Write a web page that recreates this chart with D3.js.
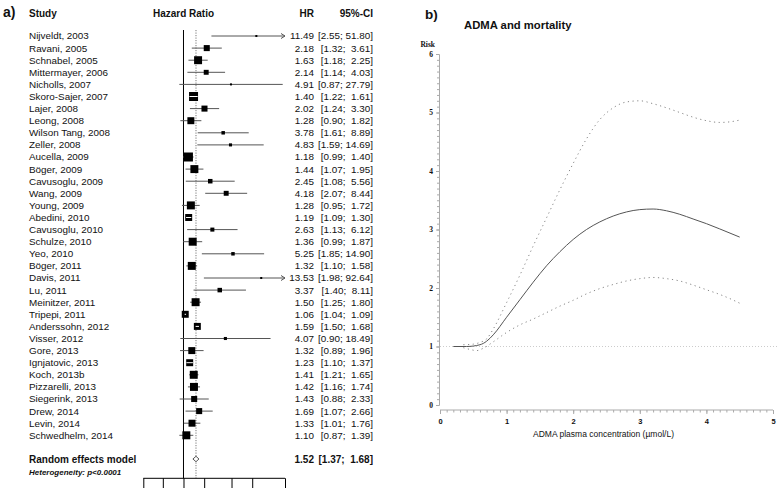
<!DOCTYPE html>
<html><head><meta charset="utf-8">
<script src="https://cdn.jsdelivr.net/npm/d3@7"></script>
<style>
body{margin:0;background:#fff}
svg text{font-family:"Liberation Sans",Arial,Helvetica,sans-serif;fill:#111}
</style>
</head><body>
<svg id="chart" width="780" height="488"></svg>
<script>
// ---------- data: panel a (forest plot) ----------
const studies = ["Nijveldt, 2003","Ravani, 2005","Schnabel, 2005","Mittermayer, 2006","Nicholls, 2007","Skoro-Sajer, 2007","Lajer, 2008","Leong, 2008","Wilson Tang, 2008","Zeller, 2008","Aucella, 2009","Böger, 2009","Cavusoglu, 2009","Wang, 2009","Young, 2009","Abedini, 2010","Cavusoglu, 2010","Schulze, 2010","Yeo, 2010","Böger, 2011","Davis, 2011","Lu, 2011","Meinitzer, 2011","Tripepi, 2011","Anderssohn, 2012","Visser, 2012","Gore, 2013","Ignjatovic, 2013","Koch, 2013b","Pizzarelli, 2013","Siegerink, 2013","Drew, 2014","Levin, 2014","Schwedhelm, 2014"];
const hr     = [11.49,2.18,1.63,2.14,4.91,1.40,2.02,1.28,3.78,4.83,1.18,1.44,2.45,4.18,1.28,1.19,2.63,1.36,5.25,1.32,13.53,3.37,1.50,1.06,1.59,4.07,1.32,1.23,1.41,1.42,1.43,1.69,1.33,1.10];
const ciLow  = [2.55,1.32,1.18,1.14,0.87,1.22,1.24,0.90,1.61,1.59,0.99,1.07,1.08,2.07,0.95,1.09,1.13,0.99,1.85,1.10,1.98,1.40,1.25,1.04,1.50,0.90,0.89,1.10,1.21,1.16,0.88,1.07,1.01,0.87];
const ciHigh = [51.80,3.61,2.25,4.03,27.79,1.61,3.30,1.82,8.89,14.69,1.40,1.95,5.56,8.44,1.72,1.30,6.12,1.87,14.90,1.58,92.64,8.11,1.80,1.09,1.68,18.49,1.96,1.37,1.65,1.74,2.33,2.66,1.76,1.39];
const weights = [0.3,2.7,4.7,1.8,0.3,6.0,2.7,3.6,0.9,0.7,6.0,4.7,1.5,1.8,4.7,3.6,1.2,4.7,0.9,4.7,0.3,1.5,4.7,3.6,3.6,0.7,3.6,3.6,4.7,4.7,2.7,2.7,3.6,4.7];
const pooledLabel = "Random effects model";
const pooledHR = 1.52, pooledLow = 1.37, pooledHigh = 1.68;
const heterogeneityLabel = "Heterogeneity: p<0.0001";
const forestTicks = [0.26,0.5,1,2,5,10,30];

// ---------- data: panel b (ADMA and mortality) ----------
const estX = [0.2,0.4,0.6,0.7,0.8,1.0,1.2,1.4,1.6,1.8,2.0,2.2,2.4,2.6,2.8,3.0,3.2,3.4,3.6,3.8,4.0,4.2,4.5];
const estY = [1.0,1.0,1.03,1.09,1.2,1.5,1.8,2.1,2.38,2.62,2.83,3.0,3.13,3.23,3.30,3.34,3.35,3.32,3.26,3.18,3.10,3.01,2.87];
const upX  = [0.35,0.5,0.6,0.7,0.8,1.0,1.2,1.4,1.6,1.8,2.0,2.2,2.4,2.6,2.8,3.0,3.2,3.4,3.6,3.8,4.0,4.2,4.35,4.5];
const upY  = [1.03,1.04,1.07,1.13,1.3,1.75,2.22,2.72,3.2,3.68,4.13,4.55,4.88,5.08,5.18,5.2,5.15,5.08,5.0,4.92,4.86,4.83,4.84,4.87];
const loX  = [0.35,0.45,0.55,0.65,0.8,1.0,1.2,1.4,1.6,1.8,2.0,2.2,2.4,2.6,2.8,3.0,3.2,3.4,3.6,3.8,4.0,4.2,4.35,4.5];
const loY  = [0.98,0.95,0.93,0.97,1.08,1.24,1.37,1.47,1.58,1.69,1.79,1.9,1.99,2.06,2.12,2.16,2.18,2.16,2.12,2.05,1.97,1.89,1.82,1.74];
const xTicksB = [0,1,2,3,4,5];
const yTicksB = [0,1,2,3,4,5,6];
const titleB = "ADMA and mortality";
const xLabelB = "ADMA plasma concentration (µmol/L)";
const yLabelB = "Risk";

const svg = d3.select("#chart");

// ================= Panel a =================
const A = svg.append("g");
const x = d3.scaleLog().domain([0.26, 30]).range([143.3, 285]);
const rowY = i => 36 + 12.1 * i;
const pooledY = rowY(35) - 0.5;
const boxSide = d3.scaleSqrt().domain([0, 6]).range([0, 9]);
const fs = 9.9;

A.append("text").attr("x", 3).attr("y", 17).attr("font-size", 14).attr("font-weight", "bold").text("a)");
const hdrY = 16.5;
A.append("text").attr("x", 29).attr("y", hdrY).attr("font-size", 10).attr("font-weight", "bold").text("Study");
A.append("text").attr("x", x(1)).attr("y", hdrY).attr("text-anchor", "middle").attr("font-size", 10).attr("font-weight", "bold").text("Hazard Ratio");
A.append("text").attr("x", 314).attr("y", hdrY).attr("text-anchor", "end").attr("font-size", 10).attr("font-weight", "bold").text("HR");
A.append("text").attr("x", 373).attr("y", hdrY).attr("text-anchor", "end").attr("font-size", 10).attr("font-weight", "bold").text("95%-CI");

// reference lines
const axisY = 478.3;
A.append("line").attr("x1", x(1)).attr("x2", x(1)).attr("y1", 30).attr("y2", axisY).attr("stroke", "#000").attr("stroke-width", 1);
A.append("line").attr("x1", x(pooledHR)).attr("x2", x(pooledHR)).attr("y1", 30).attr("y2", axisY)
  .attr("stroke", "#777").attr("stroke-width", 1).attr("stroke-dasharray", "1.2,1.3");

const fmtCI = (lo, hi) => "[" + lo.toFixed(2) + "; " + hi.toFixed(2).padStart(5, " ") + "]";
const xMax = x.domain()[1];

studies.forEach((s, i) => {
  const cy = rowY(i);
  A.append("text").attr("x", 29).attr("y", cy).attr("dy", "0.35em").attr("font-size", fs).text(s);
  A.append("text").attr("x", 314).attr("y", cy).attr("dy", "0.35em").attr("text-anchor", "end").attr("font-size", fs).text(hr[i].toFixed(2));
  A.append("text").attr("x", 373).attr("y", cy).attr("dy", "0.35em").attr("text-anchor", "end").attr("font-size", fs)
    .style("white-space", "pre").text(fmtCI(ciLow[i], ciHigh[i]));
  const lo = x(ciLow[i]);
  const clipped = ciHigh[i] > xMax;
  const hi = clipped ? x(xMax) : x(ciHigh[i]);
  A.append("line").attr("x1", lo).attr("x2", hi).attr("y1", cy).attr("y2", cy).attr("stroke", "#555").attr("stroke-width", 1);
  if (clipped) {
    A.append("path").attr("d", `M${hi-4},${cy-2.5}L${hi},${cy}L${hi-4},${cy+2.5}`).attr("fill", "none").attr("stroke", "#555").attr("stroke-width", 1);
  }
  const side = boxSide(weights[i]);
  const cx = x(hr[i]);
  A.append("rect").attr("x", cx - side / 2).attr("y", cy - side / 2).attr("width", side).attr("height", side).attr("fill", "#000");
  if (lo > cx - side / 2 && hi < cx + side / 2) {
    A.append("line").attr("x1", lo).attr("x2", hi).attr("y1", cy).attr("y2", cy).attr("stroke", "#fff").attr("stroke-width", 1);
  }
});

// pooled
A.append("text").attr("x", 29).attr("y", pooledY).attr("dy", "0.35em").attr("font-size", 10).attr("font-weight", "bold").text(pooledLabel);
A.append("text").attr("x", 314).attr("y", pooledY).attr("dy", "0.35em").attr("text-anchor", "end").attr("font-size", 10).attr("font-weight", "bold").text(pooledHR.toFixed(2));
A.append("text").attr("x", 373).attr("y", pooledY).attr("dy", "0.35em").attr("text-anchor", "end").attr("font-size", 10).attr("font-weight", "bold")
  .style("white-space", "pre").text(fmtCI(pooledLow, pooledHigh));
A.append("path").attr("d", `M${x(pooledLow)},${pooledY}L${x(pooledHR)},${pooledY-2.7}L${x(pooledHigh)},${pooledY}L${x(pooledHR)},${pooledY+2.7}Z`)
  .attr("fill", "#fff").attr("stroke", "#444").attr("stroke-width", 0.9);
A.append("text").attr("x", 29).attr("y", 471.7).attr("dy", "0.35em").attr("font-size", 8).attr("font-weight", "bold").attr("font-style", "italic").text(heterogeneityLabel);

// axis
const axA = A.append("g").attr("transform", `translate(0,${axisY})`)
  .call(d3.axisBottom(x).tickValues(forestTicks).tickSize(12).tickFormat(""));
axA.select(".domain").attr("stroke", "#000").attr("d", `M${x.range()[0]},0H${x.range()[1]}`);
axA.selectAll(".tick line").attr("stroke", "#000");

// ================= Panel b =================
const B = svg.append("g");
const xb = d3.scaleLinear().domain([0, 5]).range([440, 773]);
const yb = d3.scaleLinear().domain([0, 6]).range([405, 54]);

B.append("text").attr("x", 425).attr("y", 19).attr("font-size", 13.5).attr("font-weight", "bold").text("b)");
B.append("text").attr("x", 464).attr("y", 29).attr("font-size", 11.3).attr("font-weight", "bold").text(titleB);

// reference line at risk = 1
B.append("line").attr("x1", xb(0)).attr("x2", 778).attr("y1", yb(1)).attr("y2", yb(1))
  .attr("stroke", "#ccc").attr("stroke-width", 1).attr("stroke-dasharray", "1,2");

// axes
const axColor = "#aaa";
const xMinor = d3.range(0, 50.5, 1).map(d => d / 10);
const gxm = B.append("g").attr("transform", "translate(0,410)").call(d3.axisBottom(xb).tickValues(xMinor).tickSize(2.5).tickFormat(""));
const gx = B.append("g").attr("transform", "translate(0,410)").call(d3.axisBottom(xb).tickValues(xTicksB).tickSize(4).tickFormat(d3.format("d")));
[gxm, gx].forEach(g => { g.selectAll("line,path").attr("stroke", axColor); });
gx.select(".domain").attr("d", `M${xb(0)},0H${xb(5)}`);
gxm.select(".domain").remove();
gx.selectAll("text").attr("font-size", 7.5).attr("font-weight", "bold").attr("fill", "#333").attr("dy", "0.9em");

const yMinor = d3.range(0, 60.5, 1).map(d => d / 10);
const gym = B.append("g").attr("transform", "translate(439,0)").call(d3.axisLeft(yb).tickValues(yMinor).tickSize(2).tickFormat(""));
const gy = B.append("g").attr("transform", "translate(439,0)").call(d3.axisLeft(yb).tickValues(yTicksB).tickSize(3).tickFormat(d3.format("d")));
[gym, gy].forEach(g => { g.selectAll("line,path").attr("stroke", axColor); });
gym.select(".domain").remove();
gy.selectAll("text").attr("font-size", 7.5).attr("font-weight", "bold").attr("fill", "#333")
  .style("font-family", "'Liberation Serif','Times New Roman',serif");

B.append("text").attr("x", 435).attr("y", 47).attr("text-anchor", "end").attr("font-size", 7.5).attr("font-weight", "bold")
  .style("font-family", "'Liberation Serif','Times New Roman',serif").attr("fill", "#333").text(yLabelB);
B.append("text").attr("x", 603.5).attr("y", 437).attr("text-anchor", "middle").attr("font-size", 8.5).attr("fill", "#333").text(xLabelB);

// curves
const line = d3.line().x(d => xb(d[0])).y(d => yb(d[1])).curve(d3.curveMonotoneX);
B.append("path").attr("d", line(d3.zip(upX, upY))).attr("fill", "none").attr("stroke", "#888").attr("stroke-width", 1).attr("stroke-dasharray", "1.2,3.5");
B.append("path").attr("d", line(d3.zip(loX, loY))).attr("fill", "none").attr("stroke", "#888").attr("stroke-width", 1).attr("stroke-dasharray", "1.2,3.5");
B.append("path").attr("d", line(d3.zip(estX, estY))).attr("fill", "none").attr("stroke", "#555").attr("stroke-width", 1);
</script>
</body></html>
